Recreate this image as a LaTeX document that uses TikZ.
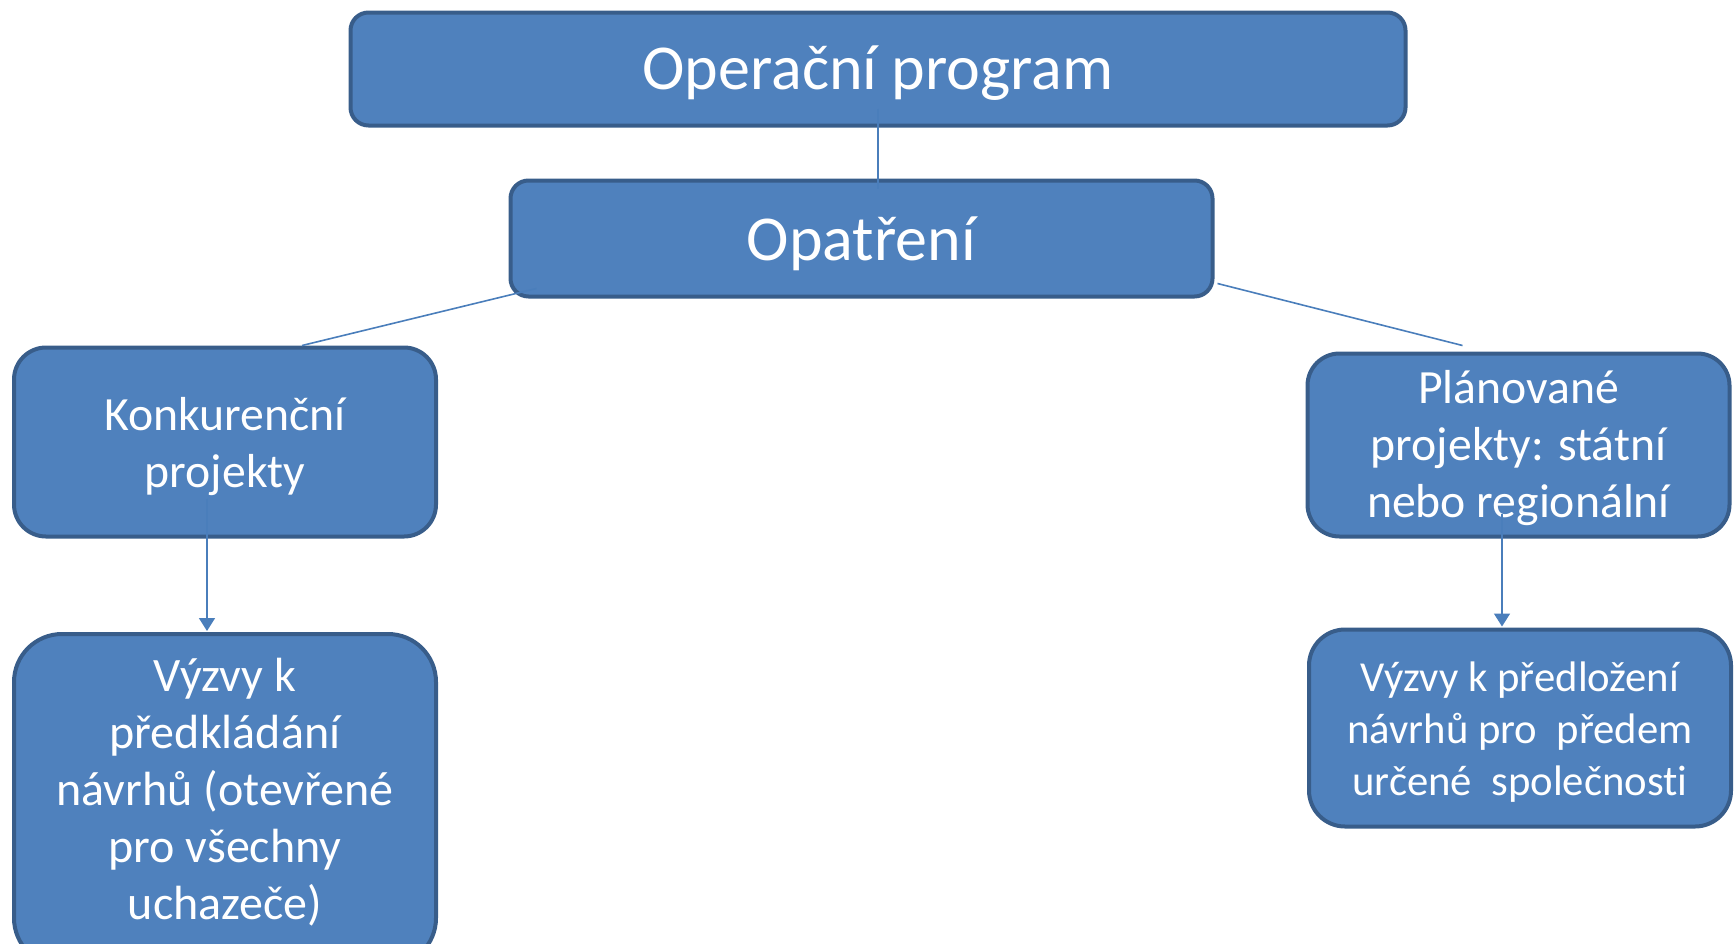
\documentclass[tikz,border=0pt]{standalone}
\usepackage{fontspec}
\setmainfont{Carlito}[Ligatures=NoCommon]
\usepackage{tikz}
\usetikzlibrary{arrows.meta}
\definecolor{boxFill}{HTML}{4F81BD}
\definecolor{boxLine}{HTML}{385D8A}
\definecolor{linkLine}{HTML}{4A7EBB}

\begin{document}
\begin{tikzpicture}[
							x=1pt, y=-1pt,
							boxBase/.style={rectangle, draw=boxLine, fill=boxFill, line width=4pt, text=white, align=center, inner sep=0pt},
							boxLevel1/.style={boxBase, rounded corners=18pt, text height=57pt, text depth=15pt, font=\fontsize{64}{77}\selectfont},
							boxLevel2/.style={boxBase, rounded corners=32pt, minimum width=422pt, font=\fontsize{47.7}{57}\selectfont},
							boxLevel3/.style={boxBase, rounded corners=36pt, minimum width=422pt, font=\fontsize{42.7}{51.7}\selectfont},
							link/.style={draw=linkLine, line width=1.6pt},
							linkArrow/.style={link, -{Triangle[length=13pt, width=16pt]}}
						]
						
						\useasboundingbox (0, 0) rectangle (1734, 943);
						
						\node[boxLevel1, minimum width=1055pt, minimum height=113pt, text depth=16pt] (nodeProgram) at (878.00, 69.00) {Operační program};
						\node[boxLevel1, minimum width=702pt, minimum height=116pt, text height=58pt] (nodeOpatreni) at (861.50, 238.50) {Opatření};
						
						\node[boxLevel2, minimum height=189pt] (nodeKonkurencni) at (225.00, 442.00) {\rule{0pt}{48pt}Konkurenční\\projekty\rule[-15pt]{0pt}{15pt}};
						\node[boxLevel2, minimum height=183pt] (nodePlanovane) at (1518.50, 445.00) {\rule{0pt}{45pt}Plánované\\projekty: státní\\nebo regionální\rule[-15pt]{0pt}{15pt}};
						
						\node[boxLevel2, rounded corners=48pt, minimum height=332pt, font=\fontsize{48}{57}\selectfont] (nodeVyzvyOtevrene) at (225.00, 800.00) {\rule{0pt}{44pt}Výzvy k\\předkládání\\návrhů (otevřené\\pro všechny\\uchazeče)\rule[-32.6pt]{0pt}{32.6pt}};
						\node[boxLevel3, minimum height=197pt] (nodeVyzvyUrcene) at (1520.00, 728.00) {\rule{0pt}{43.8pt}Výzvy k předložení\\návrhů pro\ \ předem\\určené\ \ společnosti\rule[-13pt]{0pt}{13pt}};
						
						\draw [link] ([yshift=19pt]nodeProgram.south) to ([yshift=-10pt]nodeProgram.south |- nodeOpatreni.north);
						\draw [link] ([xshift=28pt, yshift=10pt]nodeOpatreni.south west) to ([xshift=77pt]nodeKonkurencni.north);
						\draw [link] ([xshift=3pt, yshift=15pt]nodeOpatreni.south east) to ([xshift=-56pt, yshift=6pt]nodePlanovane.north);
						\draw [linkArrow] ([xshift=-18pt, yshift=40pt]nodeKonkurencni.south) to ([xshift=-18pt, yshift=1pt]nodeVyzvyOtevrene.north);
						\draw [linkArrow] ([xshift=-16.5pt, yshift=25pt]nodePlanovane.south) to ([xshift=-18pt, yshift=1pt]nodeVyzvyUrcene.north);
					\end{tikzpicture}
\end{document}
